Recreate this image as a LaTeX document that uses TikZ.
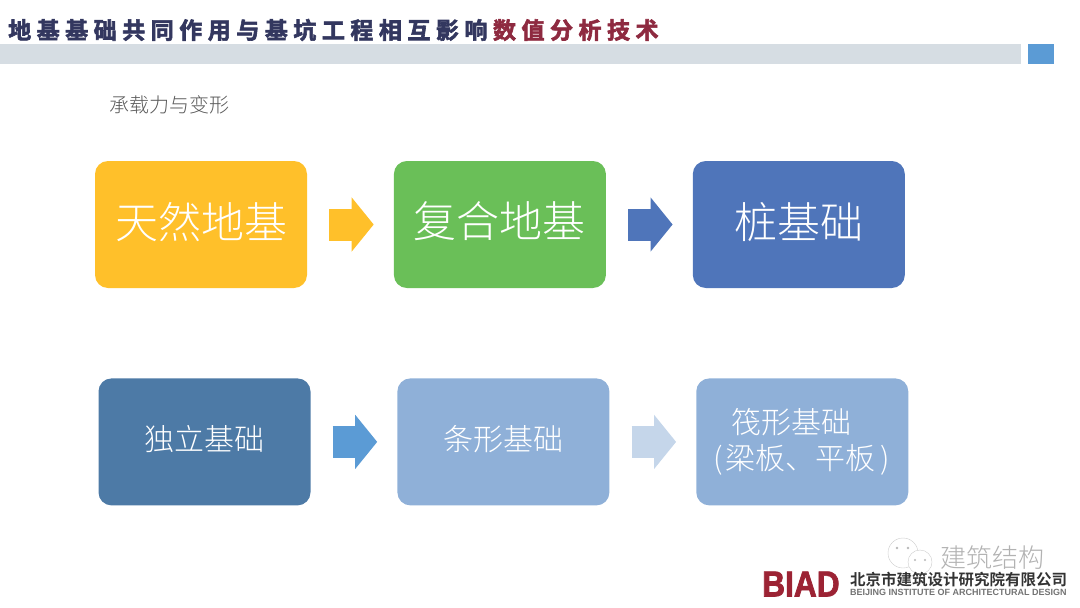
\documentclass[tikz,border=0pt]{standalone}
\usepackage{fontspec}
\setmainfont{Noto Sans CJK SC Light}[BoldFont={Noto Sans CJK SC Bold}]
\newfontfamily\titlefont[LetterSpace=24,FakeBold=2.6]{Noto Sans CJK SC Bold}
\newfontfamily\logofont[FakeStretch=0.88,FakeBold=2]{Liberation Sans Bold}
\newfontfamily\latinfont{Liberation Sans Bold}
\definecolor{ink}{HTML}{33375F}
\definecolor{crimson}{HTML}{8E2A40}
\definecolor{logored}{HTML}{9C2334}
\definecolor{barc}{HTML}{D6DDE3}
\definecolor{squarec}{HTML}{5B9BD5}
\definecolor{sunc}{HTML}{FFC02A}
\definecolor{grassc}{HTML}{6ABF58}
\definecolor{pilec}{HTML}{4F75BA}
\definecolor{steelc}{HTML}{4D7AA6}
\definecolor{skyc}{HTML}{8FB0D8}
\definecolor{palec}{HTML}{C5D6EA}
\usetikzlibrary{arrows.meta,positioning}

\begin{document}
\begin{tikzpicture}[x=1pt,y=1pt,node distance=90pt and 86.5pt,every node/.style={inner sep=0pt}]
\tikzstyle{chip}=[rounded corners=13pt,minimum width=212pt,minimum height=127pt,align=center,text=white]
\tikzstyle{bigchip}=[chip,text depth=9pt,font=\fontsize{43}{50}\selectfont]
\tikzstyle{smallchip}=[chip,font=\fontsize{30}{36}\selectfont]
\tikzstyle{blockarrow}=[-{Triangle[length=22pt,width=53pt]},line width=32pt,shorten <=22pt,shorten >=20pt]
\useasboundingbox (0,0) rectangle (1080,-608);
\fill[barc] (0,-44) rectangle (1021,-63.5);
\fill[squarec] (1028,-44) rectangle (1054,-63.5);
\node[anchor=west,font=\titlefont\fontsize{23}{26}\selectfont,text=ink] (title) at (8,-30) {地基基础共同作用与基坑工程相互影响\hspace{5.5pt}\textcolor{crimson}{数值分析技术}};
\node[anchor=west,font=\fontsize{20}{24}\selectfont,text=black!65] (sub) at (109,-105) {承载力与变形};
\node[bigchip,fill=sunc] (natural) at (201,-224.5) {天然地基};
\node[bigchip,fill=grassc,right=of natural] (composite) {复合地基};
\node[bigchip,fill=pilec,right=of composite] (pile) {桩基础};
\node[smallchip,fill=steelc,text depth=8.6pt,below=of natural,xshift=3.5pt] (single) {独立基础};
\node[smallchip,fill=skyc,text depth=8.6pt,below=of composite,xshift=3.5pt] (strip) {条形基础};
\node[smallchip,fill=skyc,below=of pile,xshift=3.5pt,align=left] (raft) {\hspace*{16pt}筏形基础\\\hspace*{-1.5pt}(\hspace{2pt}梁板、平板\hspace{5pt})};
\draw[blockarrow,draw=sunc] (natural)--(composite);
\draw[blockarrow,draw=pilec] (composite)--(pile);
\draw[blockarrow,draw=squarec] (single)--(strip);
\draw[blockarrow,draw=palec] (strip)--(raft);
\draw[black!20,fill=white] (903,-553) circle (15);
\draw[black!20,fill=white] (920,-562) circle (12);
\fill[black!28] (897,-548) circle (1.3) (908,-548) circle (1.3) (915,-560) circle (1.1) (925,-560) circle (1.1);
\node[anchor=west,font=\fontsize{26}{30}\selectfont,text=black!30] (mark) at (940,-558) {建筑结构};
\node[anchor=west,font=\logofont\fontsize{36}{40}\selectfont,text=logored] (biad) at (762,-584) {BIAD};
\node[anchor=west,font=\bfseries\fontsize{15.5}{18}\selectfont,text=black!80] (cname) at (850,-579.5) {北京市建筑设计研究院有限公司};
\node[anchor=west,font=\latinfont\fontsize{9}{11}\selectfont,text=black!55] (ename) at (850,-592) {BEIJING INSTITUTE OF ARCHITECTURAL DESIGN};
\end{tikzpicture}
\end{document}
